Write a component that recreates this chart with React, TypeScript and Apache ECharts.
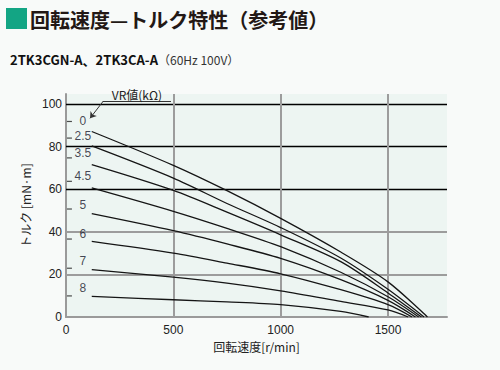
import React, { useEffect, useRef } from "react";
import * as echarts from "echarts";

// speed sample points [r/min]
const speedPts = [120, 500, 750, 1000, 1280, 1500];
// torque [mN·m] per VR value at speedPts, then zero at its end speed
const vrLabels = ["0", "2.5", "3.5", "4.5", "5", "6", "7", "8"];
const torque0 = [87.1, 71.2, 59.3, 46.3, 30.5, 16.5];
const torque25 = [80.3, 65.2, 53.3, 42.0, 27.7, 13.0];
const torque35 = [71.5, 59.4, 49.2, 38.6, 26.0, 11.3];
const torque45 = [60.6, 49.6, 41.6, 33.0, 21.0, 9.5];
const torque5 = [48.5, 40.5, 34.3, 27.5, 17.5, 7.8];
const torque6 = [35.5, 30.0, 25.3, 20.3, 12.8, 5.8];
const torque7 = [22.2, 18.7, 15.9, 12.3, 7.3, 3.3];
const torque8 = [9.7, 8.1, 7.1, 5.8, 2.6];
const endSpeeds = [1684, 1668, 1656, 1643, 1628, 1612, 1594, 1410];
// label anchors for curve names
const labelSpeed = 79;
const labelTorque = [92.0, 84.8, 77.0, 66.0, 52.7, 39.1, 26.1, 13.6];
const dashSpeed = 16;
const dashTorque = [91.8, 84.0, 74.7, 63.7, 50.7, 36.6, 22.9, 9.9];
// axis ticks
const xTicks = [0, 500, 1000, 1500];
const yTicks = [0, 20, 40, 60, 80, 100];
const darkGrid = [60, 80, 100];
const lightGrid = [20, 40];

const allTorques = [torque0, torque25, torque35, torque45, torque5, torque6, torque7, torque8];

export default function App() {
  const ref = useRef<HTMLDivElement>(null);
  useEffect(() => {
    if (!ref.current) return;
    const chart = echarts.init(ref.current, null, { renderer: "svg" });
    const fontNum = "'Liberation Sans', Arial, sans-serif";
    const fontJp = "'Noto Sans CJK JP', sans-serif";

    const curveSeries = allTorques.map((arr, i) => ({
      type: "line",
      name: vrLabels[i],
      data: [...arr.map((t, k) => [speedPts[k], t]), [endSpeeds[i], 0]],
      smooth: 0.3,
      showSymbol: false,
      symbol: "none",
      lineStyle: { color: "#151515", width: 1.3 },
      z: 5,
      silent: true,
    }));

    const option: any = {
      animation: false,
      grid: {
        left: 66,
        top: 94,
        width: 381,
        height: 223,
        show: true,
        backgroundColor: "#edf5f2",
        borderWidth: 0,
      },
      xAxis: {
        type: "value",
        min: 0,
        max: 1775,
        interval: 500,
        axisLine: { lineStyle: { color: "#9a9a9a", width: 2 } },
        axisTick: { show: false },
        splitLine: { show: false },
        axisLabel: {
          color: "#222",
          fontSize: 12,
          fontFamily: fontNum,
          margin: 7,
          showMaxLabel: false,
          formatter: (v: number) => (xTicks.includes(v) ? String(v) : ""),
        },
        name: "回転速度[r/min]",
        nameLocation: "middle",
        nameGap: 21,
        nameTextStyle: { color: "#222", fontSize: 12, fontFamily: fontJp },
      },
      yAxis: {
        type: "value",
        min: 0,
        max: 104.7,
        interval: 20,
        axisLine: { show: true, lineStyle: { color: "#9a9a9a", width: 2 } },
        axisTick: { show: false },
        splitLine: { show: false },
        axisLabel: {
          color: "#222",
          fontSize: 12,
          fontFamily: fontNum,
          margin: 4,
          showMaxLabel: false,
          formatter: (v: number) => (yTicks.includes(v) ? String(v) : ""),
        },
        name: "トルク [mN·m]",
        nameLocation: "middle",
        nameGap: 33,
        nameTextStyle: { color: "#222", fontSize: 12, fontFamily: fontJp },
      },
      series: [
        {
          type: "line",
          data: [],
          z: 2,
          silent: true,
          markLine: {
            silent: true,
            symbol: ["none", "none"],
            label: { show: false },
            data: [
              ...darkGrid.map((y) => ({ yAxis: y, lineStyle: { color: "#000", width: 1.3, type: "solid" } })),
              ...lightGrid.map((y) => ({ yAxis: y, lineStyle: { color: "#9c9c9c", width: 2, type: "solid" } })),
              ...xTicks.slice(1).map((x) => ({ xAxis: x, lineStyle: { color: "#9c9c9c", width: 2, type: "solid" } })),
            ],
          },
        },
        ...curveSeries,
        {
          type: "scatter",
          data: dashTorque.map((t) => [dashSpeed, t]),
          symbol: "rect",
          symbolSize: [5, 1.2],
          itemStyle: { color: "#222" },
          silent: true,
          z: 6,
        },
        {
          type: "scatter",
          data: labelTorque.map((t, i) => [labelSpeed, t, vrLabels[i]]),
          symbolSize: 0,
          silent: true,
          z: 6,
          label: {
            show: true,
            position: "inside",
            formatter: (p: any) => p.data[2],
            color: "#15152a",
            fontSize: 12,
            fontFamily: fontNum,
          },
        },
        {
          type: "line",
          data: [],
          z: 6,
          silent: true,
          markLine: {
            silent: true,
            data: [
              [
                {
                  coord: [172, 101.4],
                  symbol: "none",
                  lineStyle: { color: "#333", width: 1, type: "solid" },
                  label: {
                    show: true,
                    position: "insideMiddleTop",
                    formatter: "VR値(kΩ)",
                    distance: 1,
                    color: "#222",
                    fontSize: 12,
                    fontFamily: fontJp,
                  },
                },
                { coord: [489, 101.4], symbol: "none" },
              ],
              [
                { coord: [174, 101.4], symbol: "none", lineStyle: { color: "#333", width: 1, type: "solid" }, label: { show: false } },
                { coord: [112, 93.3], symbol: "arrow", symbolSize: 6 },
              ],
            ],
          },
        },
      ],
      graphic: [
        { type: "rect", shape: { x: 6, y: 8, width: 21, height: 21 }, style: { fill: "#13a584" } },
        {
          type: "text",
          x: 30,
          y: 19,
          style: {
            text: "回転速度—トルク特性（参考値）",
            fill: "#231815",
            font: `bold 20px ${fontJp}`,
            verticalAlign: "middle",
          },
        },
        {
          type: "text",
          x: 10,
          y: 59,
          style: {
            text: "{b|2TK3CGN-A、2TK3CA-A}{n|（60Hz 100V）}",
            verticalAlign: "middle",
            rich: {
              b: { font: `bold 13px ${fontJp}`, fill: "#111" },
              n: { font: `12px ${fontJp}`, fill: "#333" },
            },
          },
        },
      ],
    };
    chart.setOption(option);
    return () => chart.dispose();
  }, []);
  return (
    <div
      ref={ref}
      style={{ position: "fixed", left: 0, top: 0, width: 500, height: 370, background: "#f8faf9" }}
    />
  );
}
